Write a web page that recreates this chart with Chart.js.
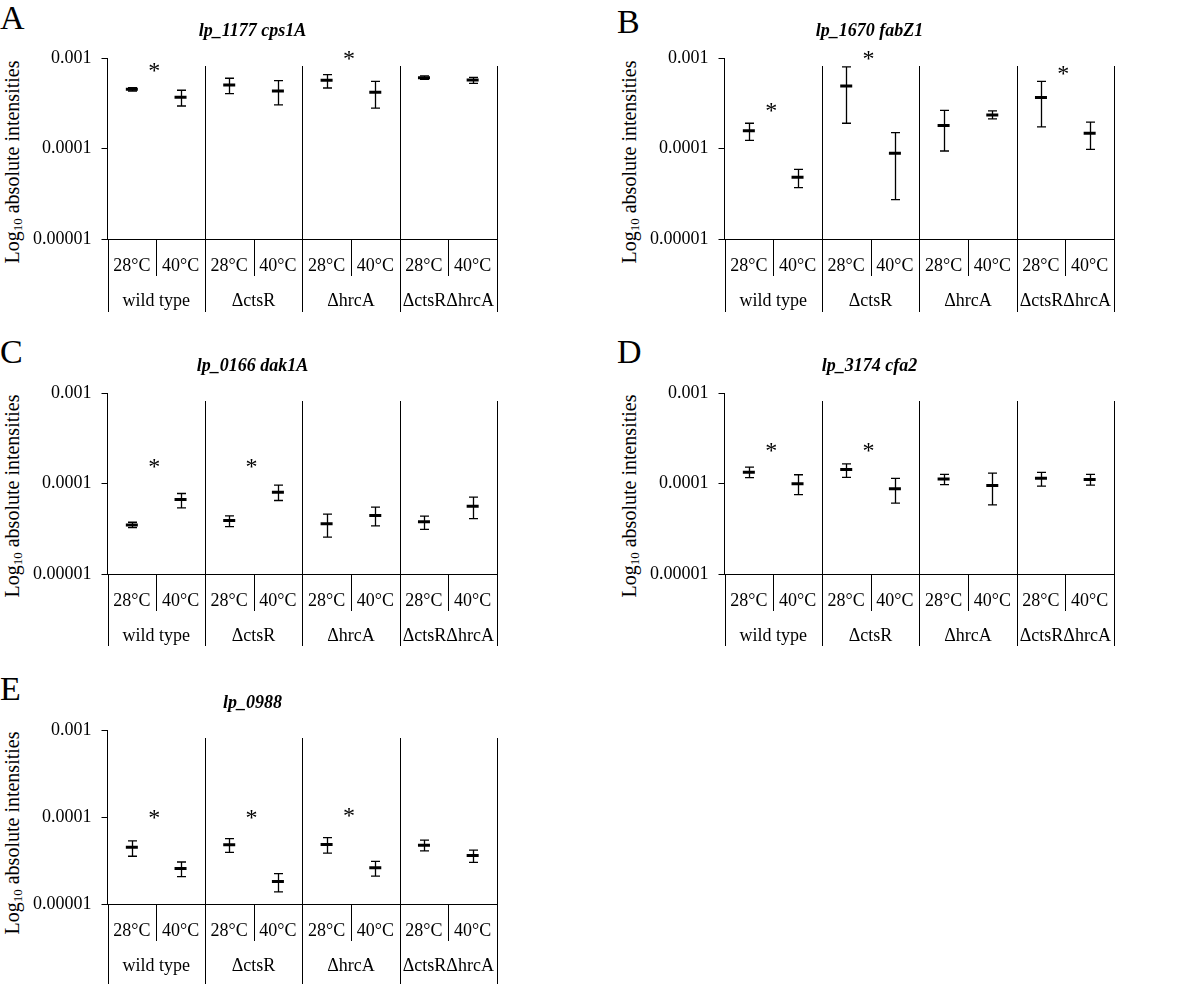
<!DOCTYPE html>
<html><head><meta charset="utf-8">
<script src="https://cdn.jsdelivr.net/npm/chart.js@4.4.1/dist/chart.umd.min.js"></script>
<style>
html,body{margin:0;padding:0;background:#fff;}
body{width:1200px;height:985px;overflow:hidden;position:relative;font-family:"Liberation Serif","Times New Roman",serif;color:#000;}
.panel{position:absolute;}
.letter{position:absolute;font-size:34px;line-height:1;}
.ytitle{position:absolute;font-size:20px;line-height:1;white-space:nowrap;transform:translate(-50%,-50%) rotate(-90deg);}
.ytitle sub{font-size:13px;vertical-align:-3px;line-height:1;}
</style></head>
<body>
<div class="letter" style="left:0;top:1px">A</div>
<div class="letter" style="left:617px;top:5px">B</div>
<div class="letter" style="left:0;top:335px">C</div>
<div class="letter" style="left:617px;top:335px">D</div>
<div class="letter" style="left:0;top:672px">E</div>
<div class="ytitle" style="left:13px;top:162px">Log<sub>10</sub> absolute intensities</div>
<div class="ytitle" style="left:630px;top:162px">Log<sub>10</sub> absolute intensities</div>
<div class="ytitle" style="left:13px;top:496px">Log<sub>10</sub> absolute intensities</div>
<div class="ytitle" style="left:630px;top:496px">Log<sub>10</sub> absolute intensities</div>
<div class="ytitle" style="left:13px;top:833px">Log<sub>10</sub> absolute intensities</div>
<canvas id="cA" class="panel" width="506" height="320" style="left:0;top:0"></canvas>
<canvas id="cB" class="panel" width="506" height="320" style="left:617px;top:0"></canvas>
<canvas id="cC" class="panel" width="506" height="320" style="left:0;top:335px"></canvas>
<canvas id="cD" class="panel" width="506" height="320" style="left:617px;top:335px"></canvas>
<canvas id="cE" class="panel" width="506" height="313" style="left:0;top:672px"></canvas>
<script>
// ---- data ----
const categories = ['28°C','40°C','28°C','40°C','28°C','40°C','28°C','40°C'];
const strains = ['wild type','ΔctsR','ΔhrcA','ΔctsRΔhrcA'];
const yTickValues = [0.00001, 0.0001, 0.001];
const yTickLabels = ['0.00001','0.0001','0.001'];

const titleA = 'lp_1177 cps1A';
const meanA = [0.000451,0.000368,0.000503,0.000432,0.000567,0.000418,0.000606,0.000571];
const lowA  = [0.000432,0.000295,0.000404,0.000303,0.000466,0.000280,0.000581,0.000525];
const highA = [0.000470,0.000440,0.000597,0.000561,0.000654,0.000552,0.000633,0.000611];
const starsA = [[0,0.000775],[2,0.00105]];

const titleB = 'lp_1670 fabZ1';
const meanB = [0.000157,0.0000481,0.000491,0.0000885,0.000179,0.000234,0.000365,0.000147];
const lowB  = [0.000123,0.0000369,0.000190,0.0000272,0.0000938,0.000212,0.000173,0.0000980];
const highB = [0.000190,0.0000589,0.000796,0.000150,0.000264,0.000260,0.000552,0.000196];
const starsB = [[0,0.000281],[1,0.00105],[3,0.000724]];

const titleC = 'lp_0166 dak1A';
const meanC = [0.0000348,0.0000665,0.0000389,0.0000802,0.0000358,0.0000442,0.0000379,0.0000561];
const lowC  = [0.0000326,0.0000538,0.0000334,0.0000649,0.0000255,0.0000340,0.0000312,0.0000410];
const highC = [0.0000373,0.0000775,0.0000439,0.0000959,0.0000458,0.0000547,0.0000435,0.0000706];
const starsC = [[0,0.000165],[1,0.000165]];

const titleD = 'lp_3174 cfa2';
const meanD = [0.000133,0.0000991,0.000143,0.0000873,0.000112,0.0000951,0.000114,0.000111];
const lowD  = [0.000116,0.0000755,0.000117,0.0000606,0.0000974,0.0000581,0.0000934,0.0000959];
const highD = [0.000152,0.000125,0.000165,0.000114,0.000126,0.000130,0.000133,0.000126];
const starsD = [[0,0.000246],[1,0.000246]];

const titleE = 'lp_0988';
const meanE = [0.0000449,0.0000256,0.0000480,0.0000181,0.0000484,0.0000261,0.0000472,0.0000360];
const lowE  = [0.0000354,0.0000206,0.0000392,0.0000138,0.0000385,0.0000209,0.0000408,0.0000301];
const highE = [0.0000532,0.0000304,0.0000564,0.0000224,0.0000578,0.0000309,0.0000541,0.0000416];
const starsE = [[0,0.000106],[1,0.000106],[2,0.000110]];

// ---- drawing ----
const SERIF = '"Liberation Serif","Times New Roman",serif';

const decoPlugin = {
  id: 'deco',
  afterDraw(chart) {
    const ctx = chart.ctx;
    const {left, right, top, bottom} = chart.chartArea;
    const xs = chart.scales.x, ys = chart.scales.y;
    const ds = chart.data.datasets[0];
    const half = (xs.getPixelForValue(1) - xs.getPixelForValue(0)) / 2;
    ctx.save();
    ctx.strokeStyle = '#000';
    ctx.fillStyle = '#000';
    // error bars
    ctx.lineWidth = 1.3;
    ds.data.forEach((m, i) => {
      const px = Math.round(xs.getPixelForValue(i)) + 0.5;
      const yl = ys.getPixelForValue(ds.low[i]);
      const yh = ys.getPixelForValue(ds.high[i]);
      ctx.beginPath();
      ctx.moveTo(px, yh); ctx.lineTo(px, yl);
      ctx.moveTo(px - 4.5, yh); ctx.lineTo(px + 4.5, yh);
      ctx.moveTo(px - 4.5, yl); ctx.lineTo(px + 4.5, yl);
      ctx.stroke();
    });
    // separators
    ctx.lineWidth = 1;
    const ext = chart.options.labelDepth;
    ctx.beginPath();
    for (let g = 0; g < strains.length; g++) {
      const gx = Math.round(xs.getPixelForValue(2 * g + 1) + half) + 0.5;
      ctx.moveTo(gx, top + 8); ctx.lineTo(gx, bottom + ext);
      const ix = Math.round(xs.getPixelForValue(2 * g) + half) + 0.5;
      ctx.moveTo(ix, bottom); ctx.lineTo(ix, bottom + 37);
    }
    const lx = Math.round(left) + 0.5;
    ctx.moveTo(lx, bottom); ctx.lineTo(lx, bottom + ext);
    ctx.stroke();
    // strain labels
    ctx.font = '18px ' + SERIF;
    ctx.textAlign = 'center';
    ctx.textBaseline = 'middle';
    strains.forEach((s, g) => {
      const cx = (xs.getPixelForValue(2 * g) + xs.getPixelForValue(2 * g + 1)) / 2;
      ctx.fillText(s, cx, bottom + 62);
    });
    // significance asterisks
    ctx.font = '24px ' + SERIF;
    ctx.textBaseline = 'alphabetic';
    (chart.options.stars || []).forEach(([g, lvl]) => {
      const cx = (xs.getPixelForValue(2 * g) + xs.getPixelForValue(2 * g + 1)) / 2 - 2;
      ctx.fillText('*', cx, ys.getPixelForValue(lvl) + 10);
    });
    ctx.restore();
  }
};

function makeChart(id, title, mean, low, high, stars, labelDepth) {
  return new Chart(document.getElementById(id), {
    type: 'line',
    data: {
      labels: categories,
      datasets: [{
        data: mean, low: low, high: high,
        showLine: false,
        pointStyle: 'line',
        pointRadius: 6, pointHoverRadius: 6,
        pointBorderWidth: 3, pointHoverBorderWidth: 3,
        borderColor: '#000', pointBorderColor: '#000', backgroundColor: '#000'
      }]
    },
    options: {
      responsive: false, animation: false, devicePixelRatio: 1,
      events: [],
      stars: stars, labelDepth: labelDepth,
      layout: { padding: { left: 0, right: 1, top: 0, bottom: 0 } },
      plugins: {
        legend: { display: false },
        tooltip: { enabled: false },
        title: {
          display: true, text: title, color: '#000',
          font: { family: SERIF, size: 18, style: 'italic', weight: 'bold', lineHeight: 1.2 },
          padding: { top: 20.2, bottom: 16.2 }
        }
      },
      scales: {
        x: {
          type: 'category', offset: true,
          grid: { display: false },
          border: { display: true, color: '#000', width: 1 },
          ticks: { font: { family: SERIF, size: 18 }, color: '#000', padding: 8, maxRotation: 0, autoSkip: false },
          afterFit(s) { s.height = 81; }
        },
        y: {
          type: 'logarithmic', min: yTickValues[0], max: yTickValues[yTickValues.length - 1],
          afterBuildTicks(s) { s.ticks = yTickValues.map(v => ({ value: v })); },
          ticks: {
            font: { family: SERIF, size: 18 }, color: '#000', padding: 10,
            callback: (v) => { const i = yTickValues.indexOf(v); return i >= 0 ? yTickLabels[i] : ''; }
          },
          grid: { drawOnChartArea: false, drawTicks: true, tickLength: 6, color: '#000', lineWidth: 1 },
          border: { display: true, color: '#000', width: 1 },
          afterFit(s) { s.width = 107.5; }
        }
      }
    },
    plugins: [decoPlugin]
  });
}

makeChart('cA', titleA, meanA, lowA, highA, starsA, 73);
makeChart('cB', titleB, meanB, lowB, highB, starsB, 73);
makeChart('cC', titleC, meanC, lowC, highC, starsC, 72);
makeChart('cD', titleD, meanD, lowD, highD, starsD, 72);
makeChart('cE', titleE, meanE, lowE, highE, starsE, 80);
</script>
</body></html>
